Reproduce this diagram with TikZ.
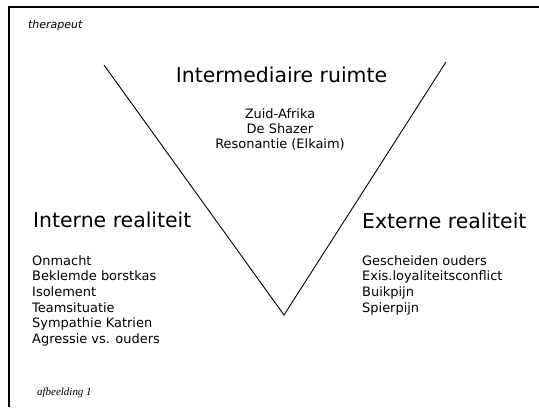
\documentclass[tikz,border=0pt]{standalone}
\usepackage{fontspec}
\setmainfont{DejaVu Sans}
\newfontfamily\captionfont{Liberation Serif}
\begin{document}
\begin{tikzpicture}[x=1bp,y=-1bp,
  heading/.style={inner sep=0pt,font=\fontsize{20.5}{24}\selectfont},
  listtext/.style={inner sep=0pt,align=left,font=\fontsize{13}{15.7}\selectfont},
  midtext/.style={inner sep=0pt,align=center,font=\fontsize{13}{15.2}\selectfont},
  frameline/.style={line width=2bp},
  vline/.style={line width=0.9bp}]
  \useasboundingbox (0,0) rectangle (539,407);
  % open frame: top and left edges only
  \coordinate (fl) at (8.5,407);
  \coordinate (fc) at (8.5,6.5);
  \coordinate (fr) at (539,6.5);
  \draw[frameline] (fl) -- (fc) -- (fr);
  % the V
  \coordinate (vl) at (104,65);
  \coordinate (vb) at (284,315);
  \coordinate (vr) at (446,62);
  \draw[vline] (vl) -- (vb) -- (vr);
  % labels (multi-line nodes are anchored on the baseline of their last line)
  \node[inner sep=0pt,anchor=base west,font=\fontsize{11}{13}\selectfont\itshape] (ther) at (28,28) {therapeut};
  \node[heading,anchor=base] (mid) at (281.5,82) {Intermediaire ruimte};
  \node[midtext,anchor=base] (midlist) at (280,148.4)
    {Zuid-Afrika\\De Shazer\\Resonantie (Elkaim)};
  \node[heading,anchor=base west] (intern) at (33,227) {Interne realiteit};
  \node[listtext,anchor=base west] (internlist) at (32,343.5)
    {Onmacht\\Beklemde borstkas\\Isolement\\Teamsituatie\\Sympathie Katrien\\Agressie vs. ouders};
  \node[heading,anchor=base west] (extern) at (362,228) {Externe realiteit};
  \node[listtext,anchor=base west] (externlist) at (362,312.1)
    {Gescheiden ouders\\Exis.loyaliteitsconflict\\Buikpijn\\Spierpijn};
  \node[inner sep=0pt,anchor=base west,font=\captionfont\fontsize{11}{13}\selectfont\itshape] (cap) at (37,395) {afbeelding 1};
\end{tikzpicture}
\end{document}
